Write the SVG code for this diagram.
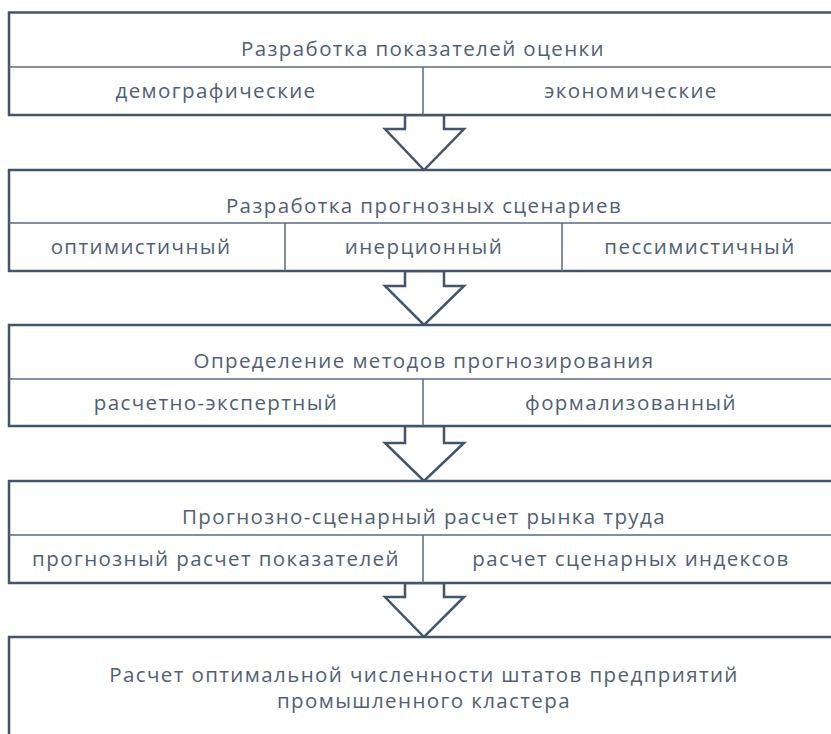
<svg xmlns="http://www.w3.org/2000/svg" width="831" height="734" viewBox="0 0 831 734">
<style>
.box{fill:#ffffff;stroke:#44546a;stroke-width:2.5}
.div{stroke:#5b6b7f;stroke-width:1.5;fill:none}
.arrow{fill:#ffffff;stroke:#44546a;stroke-width:2.5;stroke-linejoin:miter}
text{font-family:"Open Sans","Noto Sans","Liberation Sans",sans-serif;font-size:20.5px;letter-spacing:1.4px;fill:#506074;text-anchor:middle}
</style>
<rect width="831" height="734" fill="#ffffff"/>
<g id="connectors">
<polygon class="arrow" points="405,115 405,129 385,129 424,170 464,129 444,129 444,115"/>
<polygon class="arrow" points="405,271 405,286 385,286 424,325 464,286 444,286 444,271"/>
<polygon class="arrow" points="405,426 405,443 385,443 424,481 464,443 444,443 444,426"/>
<polygon class="arrow" points="405,583 405,597 385,597 424,637 464,597 444,597 444,583"/>
</g>
<g id="node1">
<rect class="box" x="9" y="12.5" width="830" height="102.5"/>
<line class="div" x1="9" y1="67" x2="839" y2="67"/>
<line class="div" x1="423" y1="67" x2="423" y2="115"/>
<text x="423" y="56">Разработка показателей оценки</text>
<text x="216" y="98">демографические</text>
<text x="631" y="98">экономические</text>
</g>
<g id="node2">
<rect class="box" x="9" y="170" width="830" height="101"/>
<line class="div" x1="9" y1="223" x2="839" y2="223"/>
<line class="div" x1="285" y1="223" x2="285" y2="271"/>
<line class="div" x1="562" y1="223" x2="562" y2="271"/>
<text x="141" y="254">оптимистичный</text>
<text x="424" y="254">инерционный</text>
<text x="700" y="254">пессимистичный</text>
<text x="424" y="213">Разработка прогнозных сценариев</text>
</g>
<g id="node3">
<rect class="box" x="9" y="325" width="830" height="101"/>
<line class="div" x1="9" y1="379" x2="839" y2="379"/>
<line class="div" x1="423" y1="379" x2="423" y2="426"/>
<text x="424" y="368">Определение методов прогнозирования</text>
<text x="216" y="410">расчетно-экспертный</text>
<text x="631" y="410">формализованный</text>
</g>
<g id="node4">
<rect class="box" x="9" y="481" width="830" height="102"/>
<line class="div" x1="9" y1="535" x2="839" y2="535"/>
<line class="div" x1="423" y1="535" x2="423" y2="583"/>
<text x="424" y="524">Прогнозно-сценарный расчет рынка труда</text>
<text x="216" y="566">прогнозный расчет показателей</text>
<text x="631" y="566">расчет сценарных индексов</text>
</g>
<g id="node5">
<rect class="box" x="9" y="637" width="830" height="110"/>
<text x="424" y="682">Расчет оптимальной численности штатов предприятий</text>
<text x="424" y="708">промышленного кластера</text>
</g>
</svg>
